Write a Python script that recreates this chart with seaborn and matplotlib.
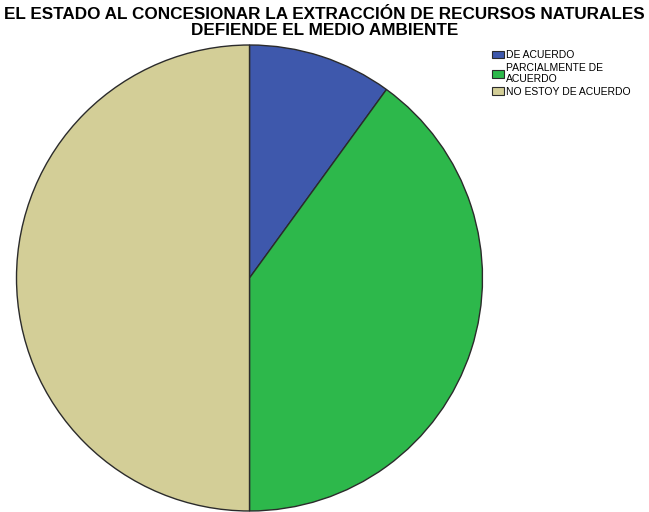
import matplotlib
matplotlib.use("Agg")
import matplotlib.pyplot as plt
import matplotlib.patches as mpatches
import seaborn as sns

labels = ["DE ACUERDO", "PARCIALMENTE DE\nACUERDO", "NO ESTOY DE ACUERDO"]
values = [10, 40, 50]
colors = ["#3E58AC", "#2DB84B", "#D3CE97"]

sns.set_style("white")
plt.rcParams["font.family"] = ["Liberation Sans", "DejaVu Sans"]
plt.rcParams["text.color"] = "black"

fig = plt.figure(figsize=(6.49, 5.12), dpi=100)
ax = fig.add_axes([14 / 649, 1 / 512, 471 / 649, 466 / 512])
palette = sns.color_palette(colors)
ax.pie(values, colors=palette, startangle=90, counterclock=False,
       wedgeprops=dict(edgecolor="#2b2b2b", linewidth=1.0))
ax.set_aspect("equal")
ax.set_xlim(-1.0, 1.0)
ax.set_ylim(-1.0, 1.0)
ax.axis("off")

fig.text(0.5, 1 - 7 / 512, "EL ESTADO AL CONCESIONAR LA EXTRACCIÓN DE RECURSOS NATURALES\nDEFIENDE EL MEDIO AMBIENTE",
         ha="center", va="top", fontsize=12.3, fontweight="bold", linespacing=1.12)

handles = [mpatches.Patch(facecolor=c, edgecolor="#2b2b2b", linewidth=0.8) for c in colors]
fig.legend(handles, labels, loc="upper left", bbox_to_anchor=(492 / 649, 1 - 50 / 512),
           frameon=False, fontsize=7.5, handlelength=1.15, handleheight=0.75,
           handletextpad=0.15, labelspacing=0.25, borderpad=0, borderaxespad=0)

fig.savefig("out.png", dpi=100)
